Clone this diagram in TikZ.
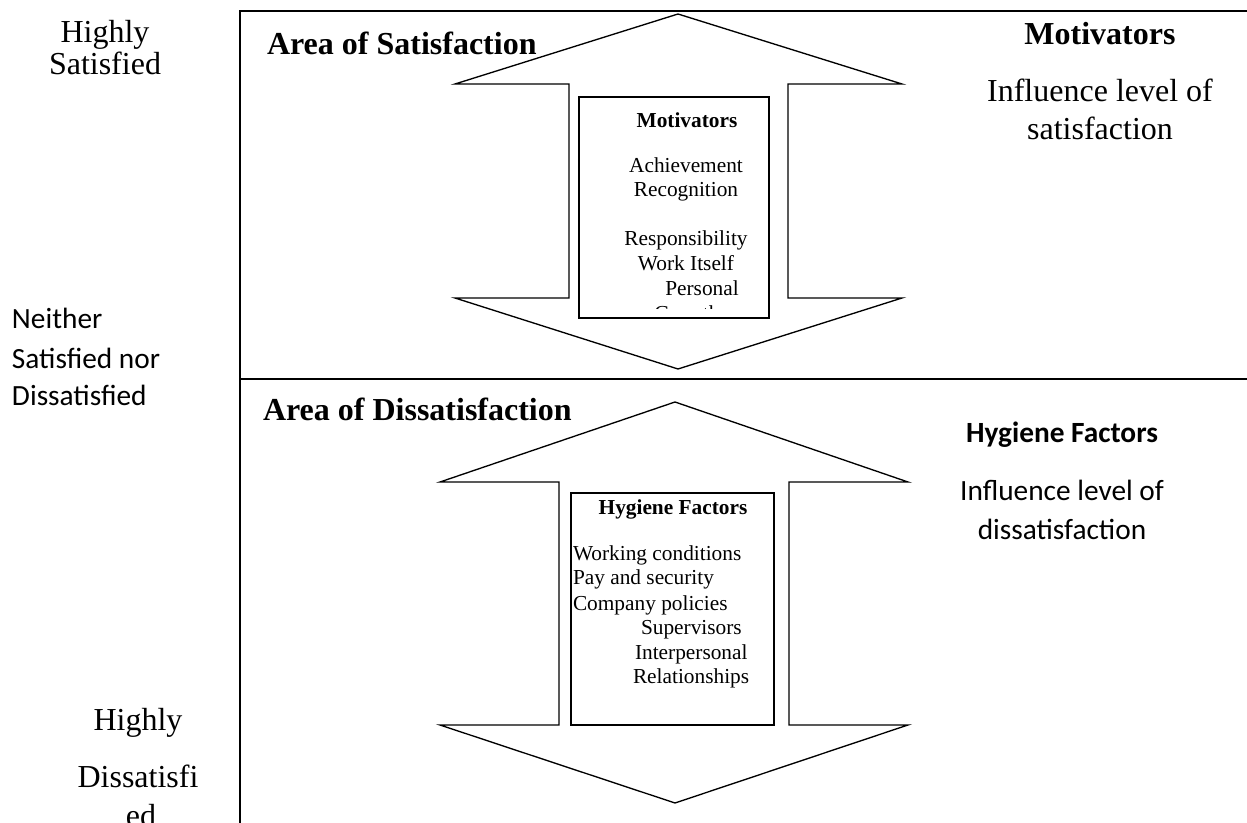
\documentclass[tikz,border=0pt]{standalone}
\usepackage{fontspec}
\setmainfont{Liberation Serif}
\newfontfamily\calib{Carlito}
\begin{document}
\begin{tikzpicture}[x=0.75pt,y=-0.75pt,
  txt/.style={inner sep=0pt,outer sep=0pt},
  bigt/.style={txt,font=\fontsize{24}{28}\selectfont},
  bigb/.style={txt,font=\fontsize{24}{28}\selectfont\bfseries},
  smallt/.style={txt,font=\fontsize{16}{18}\selectfont},
  smallb/.style={txt,font=\fontsize{16}{18}\selectfont\bfseries},
  calt/.style={txt,font=\calib\fontsize{22}{26}\selectfont},
  calb/.style={txt,font=\calib\fontsize{22}{26}\selectfont\bfseries},
  frame/.style={line width=1.5pt},
  arrowshape/.style={line width=1pt,line join=miter},
  boxline/.style={line width=1pt}]
\useasboundingbox (0,0) rectangle (1247,823);
% frame
\coordinate (ftr) at (1260,11);
\coordinate (ftl) at (240,11);
\coordinate (fbl) at (240,840);
\coordinate (fml) at (240,379);
\coordinate (fmr) at (1260,379);
\draw[frame] (ftr) -- (ftl) -- (fbl);
\draw[frame] (fml) -- (fmr);
% upper double arrow
\draw[arrowshape] (678,14) -- (902,84) -- (788,84) -- (788,298) -- (902,298) -- (678,369)
  -- (455,298) -- (569,298) -- (569,84) -- (455,84) -- cycle;
% lower double arrow
\draw[arrowshape] (675,402) -- (908,482) -- (789,482) -- (789,725) -- (908,725) -- (675,803)
  -- (440,725) -- (559,725) -- (559,482) -- (440,482) -- cycle;
% boxes
\draw[boxline,fill=white] (579,97) rectangle (769,318);
\draw[boxline,fill=white] (571,493) rectangle (774,725);
% motivator box text
\begin{scope}
\clip (579,97) rectangle (769,309);
\node[smallb,anchor=base] (m0) at (687,128) {Motivators};
\node[smallt,anchor=base] (m1) at (686,173) {Achievement};
\node[smallt,anchor=base] (m2) at (686,197) {Recognition};
\node[smallt,anchor=base] (m3) at (686,246) {Responsibility};
\node[smallt,anchor=base] (m4) at (686,271) {Work Itself};
\node[smallt,anchor=base] (m5) at (702,296) {Personal};
\node[smallt,anchor=base] (m6) at (687,321) {Growth};
\end{scope}
% hygiene box text
\node[smallb,anchor=base] (h0) at (673,515) {Hygiene Factors};
\node[smallt,anchor=base west] (h1) at (573,561) {Working conditions};
\node[smallt,anchor=base west] (h2) at (573,585) {Pay and security};
\node[smallt,anchor=base west] (h3) at (573,610) {Company policies};
\node[smallt,anchor=base west] (h4) at (641,634) {Supervisors};
\node[smallt,anchor=base west] (h5) at (635,659) {Interpersonal};
\node[smallt,anchor=base west] (h6) at (633,683) {Relationships};
% area titles
\node[bigb,anchor=base west] (as) at (267,55) {Area of Satisfaction};
\node[bigb,anchor=base west] (ad) at (263,421) {Area of Dissatisfaction};
% right texts
\node[bigb,anchor=base] (rm) at (1100,45) {Motivators};
\node[bigt,anchor=base] (ri1) at (1100,102) {Influence level of};
\node[bigt,anchor=base] (ri2) at (1100,140) {satisfaction};
\node[calb,anchor=base] (rh) at (1062,443) {Hygiene Factors};
\node[calt,anchor=base] (rd1) at (1062,501) {Influence level of};
\node[calt,anchor=base] (rd2) at (1062,540) {dissatisfaction};
% left texts
\node[bigt,anchor=base] (l1) at (105,43) {Highly};
\node[bigt,anchor=base] (l2) at (105,75) {Satisfied};
\node[calt,anchor=base west] (n1) at (12,329) {Neither};
\node[calt,anchor=base west] (n2) at (12,369) {Satisfied nor};
\node[calt,anchor=base west] (n3) at (12,406) {Dissatisfied};
\node[bigt,anchor=base] (b1) at (138,730) {Highly};
\node[bigt,anchor=base] (b2) at (138,787) {Dissatisfi};
\node[bigt,anchor=base] (b3) at (141,826) {ed};
\end{tikzpicture}
\end{document}
